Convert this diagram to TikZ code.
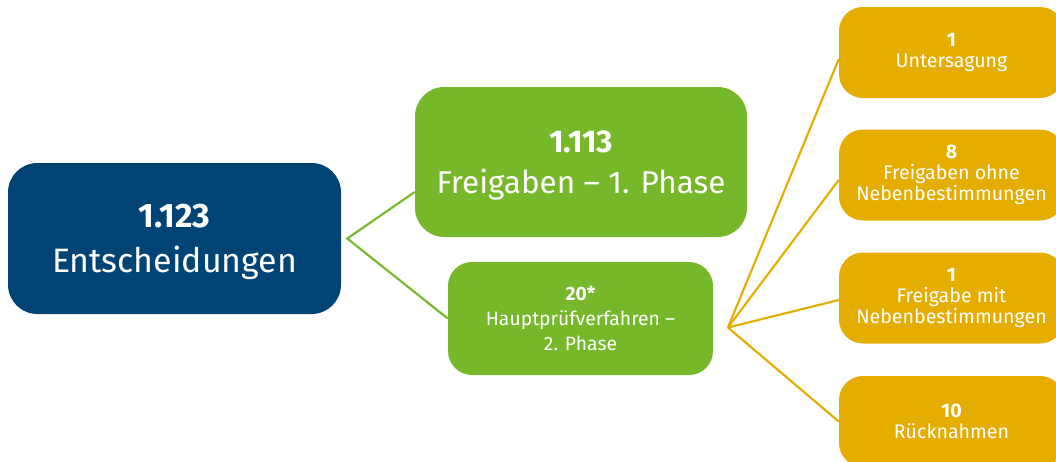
\documentclass[tikz,border=0pt]{standalone}
\usepackage{fontspec}
\setmainfont{Fira Sans}
\definecolor{kblue}{HTML}{004476}
\definecolor{kgreen}{HTML}{77B82A}
\definecolor{kgold}{HTML}{E5AD00}
\begin{document}
\begin{tikzpicture}[x=0.75pt,y=-0.75pt,
  box/.style={rounded corners=22pt,text=white,align=center,inner sep=0pt},
  bigbox/.style={box,fill=kblue,minimum width=249.75pt,minimum height=113.25pt,
    text depth=0pt,font=\fontsize{25.4}{34}\selectfont},
  phaseone/.style={box,fill=kgreen,minimum width=249pt,minimum height=112.5pt,
    text depth=0pt,font=\fontsize{23.6}{31}\selectfont},
  phasetwo/.style={box,fill=kgreen,rounded corners=18pt,minimum width=198.75pt,minimum height=84.75pt,
    font=\fontsize{14.5}{18.75}\selectfont},
  result/.style={box,fill=kgold,rounded corners=18pt,minimum width=168.75pt,minimum height=68.25pt,
    font=\fontsize{14.7}{15.75}\selectfont},
  glink/.style={draw=kgreen,line width=1.6pt},
  olink/.style={draw=kgold,line width=1.6pt}]
\useasboundingbox (0,0) rectangle (1056,461);

% main decision count
\node[bigbox] (all) at (174.5,238.5) {\textbf{1.123}\\Entscheidungen};

% first and second phase
\node[phaseone] (p1) at (581,162) {\textbf{1.113}\\Freigaben – 1. Phase};
\node[phasetwo] (p2) at (580.5,318.5) {\textbf{20*}\\Hauptprüfverfahren –\\2. Phase};

% outcomes of the main examination
\node[result] (r1) at (951.5,52.5) {\textbf{1}\\Untersagung};
\node[result] (r2) at (951.5,175) {\textbf{8}\\Freigaben ohne\\Nebenbestimmungen};
\node[result] (r3) at (951.5,298) {\textbf{1}\\Freigabe mit\\Nebenbestimmungen};
\node[result] (r4) at (951.5,421.5) {\textbf{10}\\Rücknahmen};

% branching connectors
\coordinate (gfork) at ([xshift=4.5pt]all.east);
\coordinate (ofork) at ([xshift=11pt,yshift=-6.75pt]p2.east);
\draw[glink] ([yshift=-22.5pt]p1.west) -- (gfork) -- (p2.west);
\draw[olink] ([yshift=-5pt]r1.west) -- (ofork);
\draw[olink] ([yshift=-3.75pt]r2.west) -- (ofork);
\draw[olink] ([yshift=-1.5pt]r3.west) -- (ofork);
\draw[olink] (r4.west) -- (ofork);
\end{tikzpicture}
\end{document}
